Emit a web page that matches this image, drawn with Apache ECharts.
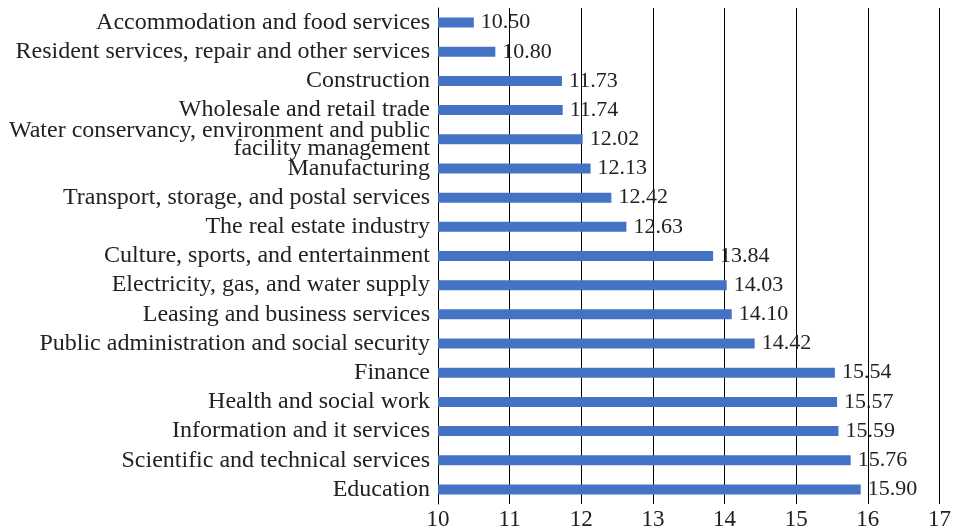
<!DOCTYPE html>
<html>
<head>
<meta charset="utf-8">
<script src="https://cdn.jsdelivr.net/npm/echarts@6/dist/echarts.min.js"></script>
<style>
  html, body { margin: 0; padding: 0; background: #fff; }
  #chart { width: 954px; height: 531px; }
</style>
</head>
<body>
<div id="chart"></div>
<script>
// Industries, listed top to bottom
const industries = [
  'Accommodation and food services',
  'Resident services, repair and other services',
  'Construction',
  'Wholesale and retail trade',
  'Water conservancy, environment and public\nfacility management',
  'Manufacturing',
  'Transport, storage, and postal services',
  'The real estate industry',
  'Culture, sports, and entertainment',
  'Electricity, gas, and water supply',
  'Leasing and business services',
  'Public administration and social security',
  'Finance',
  'Health and social work',
  'Information and it services',
  'Scientific and technical services',
  'Education'
];

const values = [10.50, 10.80, 11.73, 11.74, 12.02, 12.13, 12.42, 12.63, 13.84,
                14.03, 14.10, 14.42, 15.54, 15.57, 15.59, 15.76, 15.90];

const xTicks = { min: 10, max: 17, step: 1 };

const serif = '"Liberation Serif", "Times New Roman", serif';
const textColor = '#222';

const chart = echarts.init(document.getElementById('chart'));
chart.setOption({
  animation: false,
  grid: { left: 438, right: 14, top: 8, bottom: 24, containLabel: false },
  xAxis: {
    type: 'value',
    min: xTicks.min,
    max: xTicks.max,
    interval: xTicks.step,
    axisLine: { show: false },
    axisTick: { show: false },
    axisLabel: { fontFamily: serif, fontSize: 23, color: textColor, margin: 4 },
    splitLine: { show: true, lineStyle: { color: '#000', width: 1 } }
  },
  yAxis: {
    type: 'category',
    inverse: true,
    data: industries,
    axisLine: { show: true, lineStyle: { color: '#000', width: 1 } },
    axisTick: { show: false },
    axisLabel: {
      interval: 0,
      hideOverlap: false,
      fontFamily: serif, fontSize: 24, color: textColor, margin: 8,
      lineHeight: 18, align: 'right', padding: [6, 0, 0, 0]
    }
  },
  series: [{
    type: 'bar',
    data: values,
    barWidth: 10,
    itemStyle: { color: '#4472C4' },
    label: {
      show: true,
      position: 'right',
      distance: 7,
      fontFamily: serif,
      fontSize: 22,
      color: textColor,
      padding: [6, 0, 0, 0],
      formatter: p => p.value.toFixed(2)
    }
  }]
});
</script>
</body>
</html>
